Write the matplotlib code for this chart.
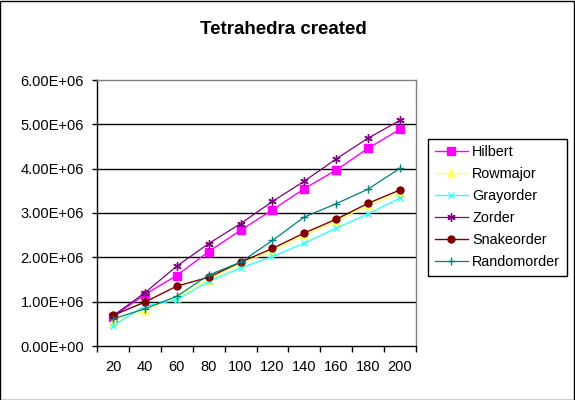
import matplotlib
matplotlib.use("Agg")
import matplotlib.pyplot as plt
from matplotlib.patches import Rectangle

plt.rcParams['font.family'] = ['Liberation Sans', 'DejaVu Sans']

categories = ["20", "40", "60", "80", "100", "120", "140", "160", "180", "200"]
hilbert = [0.66e6, 1.16e6, 1.59e6, 2.13e6, 2.61e6, 3.07e6, 3.55e6, 3.97e6, 4.46e6, 4.89e6]
rowmajor = [0.55e6, 0.80e6, 1.10e6, 1.50e6, 1.85e6, 2.15e6, 2.50e6, 2.82e6, 3.17e6, 3.45e6]
grayorder = [0.46e6, 0.90e6, 1.04e6, 1.46e6, 1.76e6, 2.02e6, 2.32e6, 2.66e6, 2.98e6, 3.34e6]
zorder = [0.68e6, 1.20e6, 1.80e6, 2.31e6, 2.76e6, 3.26e6, 3.72e6, 4.22e6, 4.69e6, 5.09e6]
snakeorder = [0.69e6, 0.99e6, 1.35e6, 1.55e6, 1.89e6, 2.20e6, 2.55e6, 2.86e6, 3.22e6, 3.52e6]
randomorder = [0.61e6, 0.84e6, 1.12e6, 1.60e6, 1.89e6, 2.38e6, 2.91e6, 3.21e6, 3.54e6, 4.01e6]
yticks = [0, 1e6, 2e6, 3e6, 4e6, 5e6, 6e6]
ytick_labels = ["0.00E+00", "1.00E+06", "2.00E+06", "3.00E+06", "4.00E+06", "5.00E+06", "6.00E+06"]

fig = plt.figure(figsize=(5.75, 4.0), dpi=100)
fig.patch.set_facecolor('white')
fig.patches.append(Rectangle((0.0008, 0.0012), 0.9975, 0.997, transform=fig.transFigure,
                             fill=False, edgecolor='black', linewidth=1.0))

ax = fig.add_axes([97/575, 1-346/400, (416-97)/575, (346-80)/400])
x = list(range(len(categories)))

series = [
    ("Hilbert", hilbert, '#FF00FF', 's', 6, 1.0),
    ("Rowmajor", rowmajor, '#FFFF66', '^', 6, 1.0),
    ("Grayorder", grayorder, '#33FFFF', 'x', 4.5, 1.0),
    ("Zorder", zorder, '#800080', (6, 2, 0), 6, 0.9),
    ("Snakeorder", snakeorder, '#800000', 'o', 5, 1.0),
    ("Randomorder", randomorder, '#008080', '+', 6, 0.9),
]
for name, vals, col, mk, ms, lw in series:
    ax.plot(x, vals, color=col, marker=mk, markersize=ms, linewidth=lw,
            markeredgecolor=col, markerfacecolor=col, markeredgewidth=1.0, label=name)

ax.set_xlim(-0.5, len(categories) - 0.5)
ax.set_ylim(0, 6e6)
ax.set_yticks(yticks)
ax.set_yticklabels(ytick_labels, fontsize=10.5)
ax.set_xticks(x)
ax.set_xticklabels(categories, fontsize=10.5)
ax.set_xticks([i - 0.5 for i in range(len(categories) + 1)], minor=True)
ax.tick_params(axis='x', which='major', length=0, pad=10)
ax.tick_params(axis='x', which='minor', length=4, direction='out', width=1)
ax.tick_params(axis='y', which='major', length=3.5, direction='out', width=1, pad=6)

for v in yticks[1:-1]:
    ax.axhline(v, color='black', linewidth=1.0, zorder=0.5)

for s in ['top', 'right']:
    ax.spines[s].set_color('#808080')
    ax.spines[s].set_linewidth(1.0)
for s in ['left', 'bottom']:
    ax.spines[s].set_color('black')
    ax.spines[s].set_linewidth(1.0)

fig.text(283/575, 1-30/400, "Tetrahedra created", ha='center', va='center',
         fontsize=13.5, fontweight='bold')

leg = fig.legend(loc='upper left', bbox_to_anchor=(428/575, 1-139/400), fontsize=10.4,
                 frameon=True, fancybox=False, edgecolor='black', framealpha=1,
                 labelspacing=0.55, handlelength=2.3, handletextpad=0.3,
                 borderpad=0.45, borderaxespad=0)
leg.get_frame().set_linewidth(1.0)

fig.savefig("out.png", dpi=100)
